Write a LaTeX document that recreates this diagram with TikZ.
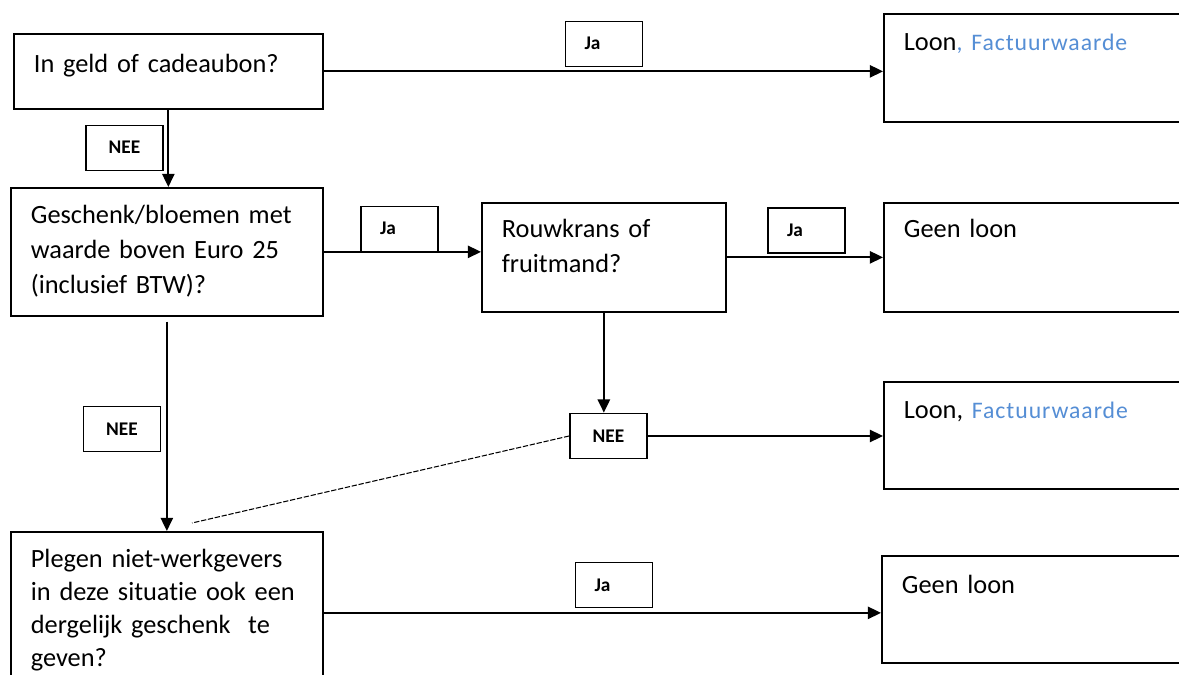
\documentclass[tikz,border=0pt]{standalone}
\usepackage{fontspec}
\setmainfont{Carlito}[Ligatures=CommonOff]
\usepackage{xcolor}
\usepackage{tikz}
\usetikzlibrary{
	arrows.meta    % Per le punte di freccia (Triangle)
}
\definecolor{blufattura}{RGB}{85,142,213}
% Caratteri per riquadri, etichette e testo in blu
\newcommand{\testobox}{\fontsize{15pt}{19.9pt}\selectfont}
\newcommand{\testolbl}{\fontsize{11pt}{13pt}\selectfont\bfseries}
\newcommand{\fattura}{\fontsize{13.5pt}{16pt}\selectfont\addfontfeature{LetterSpace=4}\color{blufattura}}

\tikzset{
	box/.style={draw, line width=1pt, anchor=north west, align=left,
		inner xsep=0.4cm, inner ysep=0pt, font=\testobox},
	lbl/.style={draw, line width=1pt, font=\testolbl, inner xsep=0.38cm,
		inner ysep=0pt, text width=0.78cm, text height=0.57cm, text depth=0.33cm},
	ja/.style={lbl, align=left},
	nee/.style={lbl, align=center},
	freccia/.style={-{Triangle[length=7.5pt,width=7pt]}, line width=1pt}
}

\begin{document}
\begin{tikzpicture}[x=0.02cm, y=-0.02cm]
		% --- Cornice (dimensioni del disegno) ---
		\fill[white] (0,0) rectangle (1179,675);
		\useasboundingbox (0,0) rectangle (1179,675);
		\clip (0,0) rectangle (1179,675);
		
		% --- Domande ---
		\node[box, text width=5.38cm, text height=0.78cm, text depth=0.72cm] (geld) at (13,33) {In geld of cadeaubon?};
		\node[box, text width=5.44cm, text height=0.72cm, text depth=1.84cm] (gesch) at (10,187) {Geschenk/bloemen met\\ waarde boven Euro 25\\ (inclusief BTW)?};
		\node[box, text width=4.08cm, text height=0.70cm, text depth=1.48cm] (rouw) at (481,202) {Rouwkrans of\\ fruitmand?};
		\node[box, text width=5.44cm, text height=0.72cm, text depth=2.52cm, font=\fontsize{15pt}{18.7pt}\selectfont] (plegen) at (10,531) {Plegen niet-werkgevers\\ in deze situatie ook een\\ dergelijk geschenk\ \ te\\ geven?};
		
		% --- Esiti (colonna di destra) ---
		\node[box, text width=5.6cm, text height=0.74cm, text depth=1.42cm] (loon1) at (883,13) {Loon{\fattura, Factuurwaarde}};
		\node[box, text width=5.6cm, text height=0.70cm, text depth=1.48cm] (geen1) at (883,202) {Geen loon};
		\node[box, text width=5.6cm, text height=0.74cm, text depth=1.40cm] (loon2) at (883,381) {Loon, {\fattura Factuurwaarde}};
		\node[box, text width=5.6cm, text height=0.76cm, text depth=1.38cm] (geen2) at (881,555) {Geen loon};
		
		% --- Etichette Ja / NEE ---
		\node[ja] (ja1) at (604,44) {Ja};
		\node[nee] (nee1) at (124.5,148) {NEE};
		\node[ja] (ja2) at (399.5,229) {Ja};
		\node[ja] (ja3) at (806.5,230.5) {Ja};
		\node[nee] (nee3) at (608.5,436) {NEE};
		\node[nee] (nee2) at (122,429) {NEE};
		\node[ja] (ja4) at (614,585) {Ja};
		
		% --- Frecce ---
		\draw[freccia] (geld.east) -- (geld.east -| loon1.west);
		\draw[freccia] (geld.south) -- (geld.south |- gesch.north);
		\draw[freccia] (gesch.east) -- (gesch.east -| rouw.west);
		\draw[freccia] (rouw.east) -- (rouw.east -| geen1.west);
		\draw[freccia] (rouw.south) -- (rouw.south |- nee3.north);
		\draw[freccia] (nee3.east) -- (nee3.east -| loon2.west);
		\draw[freccia, shorten <=0.1cm] (gesch.south) -- (gesch.south |- plegen.north);
		\draw[freccia] (plegen.east) -- (plegen.east -| geen2.west);
		
		% Linea tratteggiata da NEE verso la domanda in basso
		\coordinate (fineTratto) at (192,523);
		\draw[line width=0.6pt, dash pattern=on 3pt off 1pt] (nee3.west) -- (fineTratto);
	\end{tikzpicture}
\end{document}
